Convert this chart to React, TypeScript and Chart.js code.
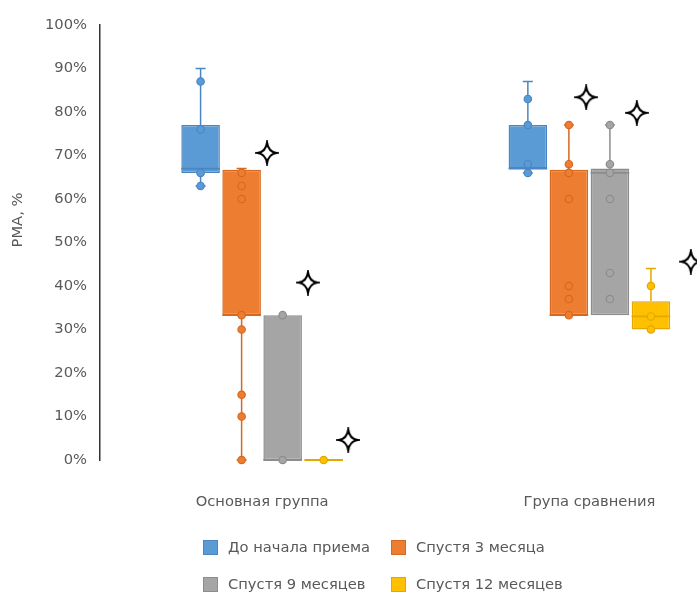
import React, { useEffect, useRef } from 'react';
import { Chart, registerables } from 'chart.js';

Chart.register(...registerables);

// Groups along the horizontal axis
const categories = ['Основная группа', 'Група сравнения'];

// Series shown in each group
const seriesNames = ['До начала приема', 'Спустя 3 месяца', 'Спустя 9 месяцев', 'Спустя 12 месяцев'];
const seriesColors = ['#5B9BD5', '#ED7D31', '#A5A5A5', '#FFC000'];
const seriesEdges = ['#4A86C2', '#D5691F', '#8C8C8C', '#E3A800'];

// Box-and-whisker statistics, indexed [series][group], in %
const whiskerLow = [[63, 66], [0, 33.3], [0, 33.3], [0, 30]];
const quartile1 = [[66, 67], [33.3, 33.3], [0, 33.3], [0, 30]];
const medians = [[67, 67], [33.3, 33.3], [0, 66], [0, 33]];
const quartile3 = [[77, 77], [66.7, 66.7], [33.3, 67], [0, 36.5]];
const whiskerHigh = [[90, 87], [67, 77], [33.3, 77], [0, 44]];

// Individual observations, indexed [series][group]
const observations = [
  [[87, 76, 66, 63], [83, 77, 68, 66]],
  [[66, 63, 60, 33.3, 30, 15, 10, 0], [77, 68, 66, 60, 40, 37, 33.3]],
  [[33.3, 0], [77, 68, 66, 60, 43, 37]],
  [[0], [40, 33, 30]],
];

// Significance markers (x in group units, y in %)
const markerX = [0.015, 0.14, 0.263, 0.99, 1.145, 1.31];
const markerY = [70.6, 40.8, 4.6, 83.4, 79.8, 45.6];

const yTitle = 'РМА, %';
const textColor = '#595959';
const fontFamily = '"DejaVu Sans", sans-serif';
const fontSize = 14.7;

function makeStar(): HTMLCanvasElement {
  const c = document.createElement('canvas');
  c.width = 24;
  c.height = 26;
  const ctx = c.getContext('2d')!;
  const cx = 12, cy = 13, rx = 9.5, ry = 10.5, r = 1.2;
  ctx.beginPath();
  ctx.moveTo(cx, cy - ry);
  ctx.quadraticCurveTo(cx + r, cy - r, cx + rx, cy);
  ctx.quadraticCurveTo(cx + r, cy + r, cx, cy + ry);
  ctx.quadraticCurveTo(cx - r, cy + r, cx - rx, cy);
  ctx.quadraticCurveTo(cx - r, cy - r, cx, cy - ry);
  ctx.closePath();
  ctx.fillStyle = '#ffffff';
  ctx.fill();
  ctx.lineWidth = 2;
  ctx.lineJoin = 'miter';
  ctx.strokeStyle = '#000000';
  ctx.stroke();
  return c;
}

const boxPlotPlugin = {
  id: 'boxWhiskers',
  beforeDatasetsDraw(chart: any) {
    const ctx = chart.ctx;
    const y = chart.scales.y;
    ctx.save();
    ctx.lineWidth = 1.5;
    seriesNames.forEach((_, s) => {
      const meta = chart.getDatasetMeta(s);
      categories.forEach((__, g) => {
        const bar = meta.data[g];
        if (!bar) return;
        const x = bar.x;
        ctx.strokeStyle = seriesEdges[s];
        const segs = [
          [quartile3[s][g], whiskerHigh[s][g]],
          [quartile1[s][g], whiskerLow[s][g]],
        ];
        segs.forEach(([from, to]) => {
          if (Math.abs(to - from) < 0.2) return;
          const y0 = y.getPixelForValue(from);
          const y1 = y.getPixelForValue(to);
          ctx.beginPath();
          ctx.moveTo(x, y0);
          ctx.lineTo(x, y1);
          ctx.moveTo(x - 5, y1);
          ctx.lineTo(x + 5, y1);
          ctx.stroke();
        });
      });
    });
    ctx.restore();
  },
  afterDatasetsDraw(chart: any) {
    const ctx = chart.ctx;
    const y = chart.scales.y;
    ctx.save();
    seriesNames.forEach((_, s) => {
      const meta = chart.getDatasetMeta(s);
      categories.forEach((__, g) => {
        const bar = meta.data[g];
        if (!bar) return;
        const x = bar.x;
        const half = bar.width / 2;
        const ym = y.getPixelForValue(medians[s][g]);
        ctx.strokeStyle = seriesEdges[s];
        ctx.lineWidth = 1.8;
        ctx.beginPath();
        ctx.moveTo(x - half, ym);
        ctx.lineTo(x + half, ym);
        ctx.stroke();
        ctx.lineWidth = 1.2;
        observations[s][g].forEach((v) => {
          const py = y.getPixelForValue(v);
          ctx.beginPath();
          ctx.arc(x, py, 3.7, 0, Math.PI * 2);
          ctx.fillStyle = seriesColors[s];
          ctx.fill();
          ctx.stroke();
        });
      });
    });
    // rotated axis title
    ctx.translate(18, 220);
    ctx.rotate(-Math.PI / 2);
    ctx.fillStyle = textColor;
    ctx.font = `${fontSize}px ${fontFamily}`;
    ctx.textAlign = 'center';
    ctx.textBaseline = 'middle';
    ctx.fillText(yTitle, 0, 0);
    ctx.restore();
  },
};

export default function App() {
  const canvasRef = useRef<HTMLCanvasElement | null>(null);

  useEffect(() => {
    if (!canvasRef.current) return;
    const star = makeStar();
    const barSets = seriesNames.map((name, s) => ({
      type: 'bar' as const,
      label: name,
      data: categories.map((_, g) => ({ x: g, y: [quartile1[s][g], quartile3[s][g]] })),
      backgroundColor: seriesColors[s],
      borderColor: seriesEdges[s],
      borderWidth: 1.5,
      borderSkipped: false,
      barPercentage: 0.94,
      categoryPercentage: 0.5015,
    }));
    const markerSet = {
      type: 'scatter' as const,
      label: 'markers',
      data: markerX.map((x, i) => ({ x, y: markerY[i] })),
      pointStyle: star,
      pointRadius: 11,
      clip: false,
    };
    const chart = new Chart(canvasRef.current, {
      type: 'bar',
      data: { datasets: [...barSets, markerSet] as any },
      plugins: [boxPlotPlugin],
      options: {
        animation: false,
        responsive: true,
        maintainAspectRatio: false,
        layout: { padding: { top: 25, bottom: 0, left: 0, right: 0 } },
        plugins: {
          legend: { display: false },
          tooltip: { enabled: false },
        },
        scales: {
          x: {
            type: 'linear',
            offset: false,
            min: -0.4954,
            max: 1.2921,
            grid: { display: false, drawTicks: false, offset: false },
            border: { display: false },
            afterBuildTicks: (scale: any) => {
              scale.ticks = categories.map((_, g) => ({ value: g }));
            },
            afterFit: (scale: any) => {
              scale.height = 133;
              scale.paddingLeft = 0;
              scale.paddingRight = 0;
            },
            ticks: {
              padding: 33,
              color: textColor,
              font: { family: fontFamily, size: fontSize },
              maxRotation: 0,
              callback: (v: any) => categories[v as number] ?? '',
            },
          },
          y: {
            min: 0,
            max: 100,
            grid: { display: false, drawTicks: false },
            border: { display: true, color: '#333333', width: 1.5 },
            afterFit: (scale: any) => {
              scale.width = 100;
            },
            ticks: {
              stepSize: 10,
              padding: 13,
              color: textColor,
              font: { family: fontFamily, size: fontSize },
              callback: (v: any) => `${v}%`,
            },
          },
        },
      },
    });
    return () => chart.destroy();
  }, []);

  const legendItem = (s: number, left: number, top: number) => (
    <div
      key={s}
      style={{ position: 'absolute', left, top, display: 'flex', alignItems: 'center', whiteSpace: 'nowrap' }}
    >
      <span
        style={{
          display: 'inline-block',
          width: 15,
          height: 15,
          boxSizing: 'border-box',
          background: seriesColors[s],
          border: `1px solid ${seriesEdges[s]}`,
          marginRight: 10,
        }}
      />
      <span style={{ color: textColor, fontFamily, fontSize, lineHeight: '20px' }}>{seriesNames[s]}</span>
    </div>
  );

  return (
    <div style={{ position: 'absolute', left: 0, top: 0, width: 697, height: 593, overflow: 'hidden', background: '#fff' }}>
      <canvas ref={canvasRef} />
      {legendItem(0, 203, 537)}
      {legendItem(1, 391, 537)}
      {legendItem(2, 203, 574)}
      {legendItem(3, 391, 574)}
    </div>
  );
}
